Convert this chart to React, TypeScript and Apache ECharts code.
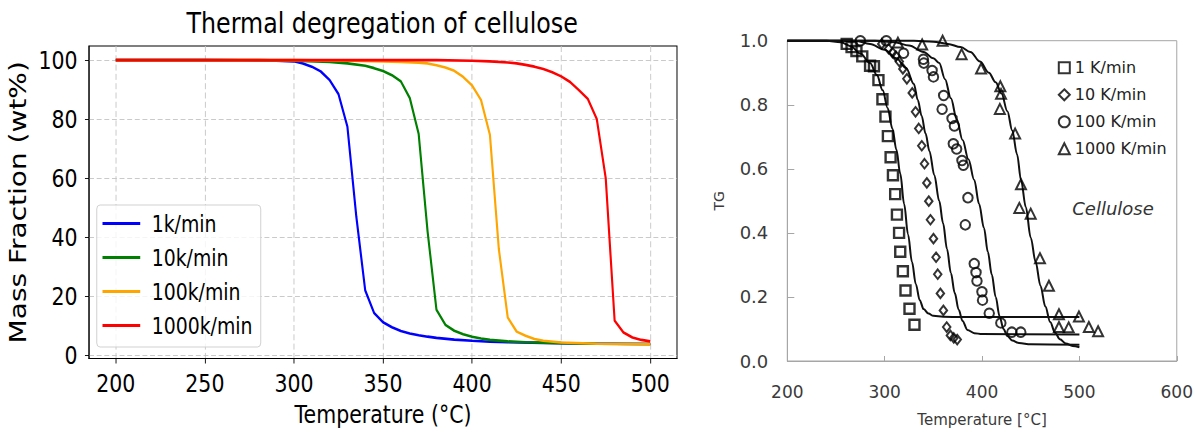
import React, { useEffect, useRef } from "react";
import * as echarts from "echarts";

// ---------- Left panel: mass fraction (wt%) vs temperature (°C) ----------
const rateNames = ["1k/min", "10k/min", "100k/min", "1000k/min"];
const rateColors = ["#0000ff", "#008000", "#ffa500", "#ff0000"];

const mass1k: [number, number][] = [
  [200, 100], [250, 100], [270, 99.95], [280, 99.9], [290, 99.8], [300, 99.6],
  [305, 98.9], [310, 97.8], [315, 96.2], [320, 93.3], [325, 88.5], [330, 77.5],
  [335, 47], [340, 22], [345, 14.3], [350, 11.2], [355, 9.5], [360, 8.2],
  [365, 7.4], [370, 6.8], [375, 6.3], [380, 5.9], [390, 5.3], [400, 4.9],
  [410, 4.6], [420, 4.4], [440, 4.2], [460, 4.0], [480, 3.9], [500, 3.8],
];
const mass10k: [number, number][] = [
  [200, 100], [280, 100], [300, 99.8], [320, 99.4], [330, 98.9], [340, 98.1],
  [345, 97.3], [350, 96.3], [355, 94.9], [360, 92.8], [365, 87.2], [370, 75],
  [375, 42], [380, 15.4], [385, 10.3], [390, 8.3], [395, 7.1], [400, 6.3],
  [405, 5.7], [410, 5.2], [420, 4.7], [430, 4.4], [450, 4.1], [470, 3.9], [500, 3.8],
];
const mass100k: [number, number][] = [
  [200, 100], [300, 100], [330, 99.8], [350, 99.6], [360, 99.4], [370, 99.1],
  [375, 98.9], [380, 98.3], [385, 97.5], [390, 96.4], [395, 94.3], [400, 91.4],
  [405, 86.5], [410, 74.7], [415, 36], [420, 12.8], [425, 8.0], [430, 6.6],
  [435, 5.5], [440, 4.9], [450, 4.3], [470, 3.9], [500, 3.7],
];
const mass1000k: [number, number][] = [
  [200, 100], [380, 100], [400, 99.8], [410, 99.6], [420, 99.2], [425, 98.9],
  [430, 98.4], [435, 97.8], [440, 97.0], [445, 95.9], [450, 94.5], [455, 92.6],
  [460, 89.8], [465, 86.8], [470, 80], [475, 60], [480, 11.7], [485, 7.7],
  [490, 6.0], [495, 5.2], [500, 4.7],
];
const massSeries = [mass1k, mass10k, mass100k, mass1000k];
const massXTicks = [200, 250, 300, 350, 400, 450, 500];
const massYTicks = [0, 20, 40, 60, 80, 100];

// ---------- Right panel: TG vs temperature, measured points and fits ----------
const tgNames = ["1 K/min", "10 K/min", "100 K/min", "1000 K/min"];
const tgSymbols = ["rect", "diamond", "circle", "triangle"];

const tg1K: [number, number][] = [
  [261, 0.99], [266, 0.98], [271, 0.968], [277, 0.951], [285, 0.922], [289, 0.92],
  [293.6, 0.877], [297.7, 0.817], [300.8, 0.763], [303.3, 0.702], [306.1, 0.636],
  [308.5, 0.58], [310.8, 0.521], [312.6, 0.457], [314.8, 0.4], [316, 0.341],
  [318.7, 0.28], [321.4, 0.22], [325.5, 0.163], [330.6, 0.113],
];
const tg10K: [number, number][] = [
  [297, 0.99], [304, 0.975], [308, 0.963], [311.5, 0.952], [315, 0.935],
  [318.7, 0.912], [322.8, 0.881], [328.3, 0.837], [331.7, 0.778], [335, 0.726],
  [338.1, 0.672], [340.9, 0.616], [343.3, 0.556], [345.3, 0.499], [347, 0.441],
  [350.1, 0.382], [352.8, 0.324], [354.5, 0.271], [357.2, 0.211], [360.3, 0.158],
  [363.7, 0.106], [367.5, 0.08], [371, 0.072], [374.5, 0.067],
];
const tg100K: [number, number][] = [
  [275, 1.0], [301.7, 1.0], [319.4, 0.961], [339.8, 0.942], [340.2, 0.93],
  [348.7, 0.907], [350.1, 0.887], [360.6, 0.829], [359, 0.786], [369.2, 0.757],
  [371.6, 0.734], [370.5, 0.678], [373.9, 0.662], [379.4, 0.626], [380.8, 0.611],
  [385.5, 0.51], [382.8, 0.425], [392, 0.304], [393.8, 0.276], [394.8, 0.25],
  [399.9, 0.216], [400.5, 0.19], [407.4, 0.149], [419.3, 0.119], [430.6, 0.09],
  [439.8, 0.09],
];
const tg1000K: [number, number][] = [
  [313.6, 0.994], [338.5, 0.988], [359.5, 1.0], [379, 0.958], [399, 0.913],
  [418.8, 0.858], [419.5, 0.834], [418.3, 0.787], [434, 0.71], [440, 0.552],
  [438.3, 0.478], [450, 0.46], [459.5, 0.321], [468.7, 0.235], [479, 0.146],
  [479, 0.106], [489, 0.105], [499.5, 0.139], [509.7, 0.106], [519.2, 0.093],
];
const tgPoints = [tg1K, tg10K, tg100K, tg1000K];

const fit1K: [number, number][] = [
  [200, 1], [240, 1], [255, 0.995], [265, 0.983], [275, 0.96], [285, 0.93],
  [292, 0.893], [298, 0.845], [303, 0.79], [308, 0.725], [312, 0.66], [316, 0.585],
  [320, 0.49], [324, 0.395], [328, 0.31], [332, 0.24], [336, 0.19], [340, 0.162],
  [345, 0.148], [350, 0.141], [360, 0.138], [380, 0.137], [500, 0.137],
];
const fit10K: [number, number][] = [
  [200, 1], [270, 1], [285, 0.99], [300, 0.972], [312, 0.945], [322, 0.915],
  [330, 0.865], [334, 0.815], [338, 0.765], [342, 0.71], [346, 0.655], [351, 0.58],
  [356, 0.5], [360, 0.43], [364, 0.35], [368, 0.275], [372, 0.212], [376, 0.16],
  [380, 0.125], [385, 0.097], [392, 0.087], [400, 0.084], [500, 0.083],
];
const fit100K: [number, number][] = [
  [200, 1], [290, 1], [310, 0.995], [325, 0.985], [340, 0.965], [350, 0.945],
  [356, 0.93], [362, 0.88], [368, 0.82], [374, 0.755], [380, 0.69], [386, 0.63],
  [392, 0.565], [397, 0.49], [402, 0.415], [406, 0.34], [410, 0.27], [414, 0.2],
  [418, 0.14], [422, 0.1], [426, 0.078], [431, 0.064], [438, 0.056], [450, 0.052],
  [500, 0.051],
];
const fit1000K: [number, number][] = [
  [200, 1], [330, 1], [350, 0.997], [365, 0.99], [378, 0.98], [388, 0.965],
  [398, 0.935], [407, 0.9], [414, 0.87], [420, 0.835], [426, 0.78], [431, 0.72],
  [436, 0.645], [440, 0.565], [445, 0.48], [450, 0.385], [455, 0.31], [460, 0.235],
  [465, 0.17], [470, 0.122], [475, 0.088], [480, 0.068], [486, 0.055], [493, 0.047],
  [500, 0.043],
];
const tgFits = [fit1K, fit10K, fit100K, fit1000K];

// The left panel is laid out on a wider canvas and squeezed horizontally,
// which gives its lettering the narrow look of a resized matplotlib figure.
const LEFT_SQUEEZE = 0.82;
const LEFT_W = 854;
const FONT = "DejaVu Sans";

function leftOption(): echarts.EChartsCoreOption {
  const dash = { color: "#c4c4c4", width: 1, type: [6, 3.3] as number[] };
  return {
    animation: false,
    textStyle: { fontFamily: FONT },
    title: {
      text: "Thermal degregation of cellulose",
      left: 461,
      top: 3,
      textAlign: "center",
      textStyle: { fontFamily: FONT, fontSize: 29, fontWeight: "normal", color: "#000" },
    },
    grid: {
      left: 106.5, right: 28.4, top: 46, bottom: 73.5,
      show: true, borderColor: "#000", borderWidth: 1.2,
    },
    legend: {
      orient: "vertical",
      left: 118,
      top: 205,
      padding: [7, 10, 10, 7],
      itemWidth: 46,
      itemHeight: 3,
      itemGap: 11,
      backgroundColor: "rgba(255,255,255,0.8)",
      borderColor: "#cccccc",
      borderWidth: 1,
      borderRadius: 4,
      textStyle: { fontFamily: FONT, fontSize: 23, color: "#000", padding: [0, 0, 0, 9] },
      data: rateNames.map((name) => ({ name, icon: "rect" })),
    },
    xAxis: {
      type: "value",
      min: 185,
      max: 515,
      name: "Temperature (°C)",
      nameLocation: "middle",
      nameGap: 43,
      nameTextStyle: { fontFamily: FONT, fontSize: 25, color: "#000" },
      axisLine: { show: true, onZero: false, lineStyle: { color: "#000", width: 1.2 } },
      axisTick: { show: true, inside: false, length: 5, customValues: massXTicks, lineStyle: { color: "#000", width: 1 } },
      axisLabel: { customValues: massXTicks, fontFamily: FONT, fontSize: 25, color: "#000", margin: 12 },
      splitLine: { show: true, lineStyle: dash },
    },
    yAxis: {
      type: "value",
      min: -1.1,
      max: 104.8,
      name: "Mass Fraction (wt%)",
      nameLocation: "middle",
      nameGap: 70,
      nameTextStyle: { fontFamily: FONT, fontSize: 28, color: "#000" },
      axisLine: { show: true, onZero: false, lineStyle: { color: "#000", width: 1.2 } },
      axisTick: { show: true, inside: false, length: 5, customValues: massYTicks, lineStyle: { color: "#000", width: 1 } },
      axisLabel: { customValues: massYTicks, fontFamily: FONT, fontSize: 25, color: "#000", margin: 14 },
      splitLine: { show: true, lineStyle: dash },
    },
    series: massSeries.map((data, i) => ({
      name: rateNames[i],
      type: "line",
      data,
      showSymbol: false,
      symbol: "none",
      color: rateColors[i],
      lineStyle: { color: rateColors[i], width: 2.6 },
      z: 2 + i,
    })),
  };
}

function rightOption(): echarts.EChartsCoreOption {
  const axisGray = "#a6a6a6";
  const labelColor = "#3a3a3a";
  const symbolSizes: (number | number[])[] = [10, [7.5, 9.5], 9.5, 10];
  const borderWidths = [2.4, 2, 2, 2];
  return {
    animation: false,
    textStyle: { fontFamily: FONT },
    grid: {
      left: 87.3, right: 17.7, top: 40.7, bottom: 67.7,
      show: true, borderColor: axisGray, borderWidth: 1,
    },
    legend: {
      orient: "vertical",
      left: 352.8,
      top: 54.8,
      itemWidth: 11,
      itemHeight: 11,
      itemGap: 11,
      textStyle: { fontFamily: FONT, fontSize: 16, color: "#222" },
      data: tgNames,
    },
    xAxis: {
      type: "value",
      min: 200,
      max: 600,
      interval: 100,
      name: "Temperature [°C]",
      nameLocation: "middle",
      nameGap: 51,
      nameTextStyle: { fontFamily: FONT, fontSize: 15, color: labelColor },
      axisLine: { show: true, onZero: false, lineStyle: { color: axisGray, width: 1 } },
      axisTick: { show: true, inside: true, length: 5, lineStyle: { color: axisGray } },
      axisLabel: { fontFamily: FONT, fontSize: 17, color: labelColor, margin: 22 },
      splitLine: { show: false },
    },
    yAxis: {
      type: "value",
      min: 0,
      max: 1,
      interval: 0.2,
      name: "TG",
      nameLocation: "middle",
      nameGap: 61,
      nameTextStyle: { fontFamily: FONT, fontSize: 14, color: labelColor },
      axisLine: { show: true, onZero: false, lineStyle: { color: axisGray, width: 1 } },
      axisTick: { show: true, inside: true, length: 7, lineStyle: { color: axisGray } },
      axisLabel: {
        fontFamily: FONT, fontSize: 18, color: labelColor, margin: 19,
        formatter: (v: number) => v.toFixed(1),
      },
      splitLine: { show: false },
    },
    graphic: [
      {
        type: "text",
        x: 413,
        y: 208,
        style: {
          text: "Cellulose",
          fontFamily: FONT,
          fontStyle: "italic",
          fontSize: 18,
          fill: "#333",
          align: "center",
          verticalAlign: "middle",
        },
      },
    ],
    series: [
      ...tgFits.map((data, i) => ({
        name: tgNames[i] + " fit",
        type: "line",
        data,
        smooth: 0.35,
        smoothMonotone: "x",
        showSymbol: false,
        symbol: "none",
        clip: false,
        lineStyle: { color: "#111", width: 2 },
        z: 2,
      })),
      ...tgPoints.map((data, i) => ({
        name: tgNames[i],
        type: "scatter",
        data,
        symbol: tgSymbols[i],
        symbolSize: symbolSizes[i],
        itemStyle: { color: "rgba(255,255,255,0)", borderColor: "#000", borderWidth: borderWidths[i] },
        z: 3,
      })),
    ],
  };
}

export default function App() {
  const leftRef = useRef<HTMLDivElement>(null);
  const rightRef = useRef<HTMLDivElement>(null);

  useEffect(() => {
    const left = echarts.init(leftRef.current!, null, { renderer: "svg" });
    left.setOption(leftOption());
    const right = echarts.init(rightRef.current!, null, { renderer: "svg" });
    right.setOption(rightOption());
    return () => {
      left.dispose();
      right.dispose();
    };
  }, []);

  return (
    <div
      style={{
        position: "fixed", left: 0, top: 0, width: 1196, height: 432,
        background: "#fff", overflow: "hidden",
      }}
    >
      <div
        ref={leftRef}
        style={{
          position: "absolute", left: 0, top: 0, width: LEFT_W, height: 432,
          transform: `scaleX(${LEFT_SQUEEZE})`, transformOrigin: "0 0",
        }}
      />
      <div ref={rightRef} style={{ position: "absolute", left: 700, top: 0, width: 496, height: 432 }} />
    </div>
  );
}
